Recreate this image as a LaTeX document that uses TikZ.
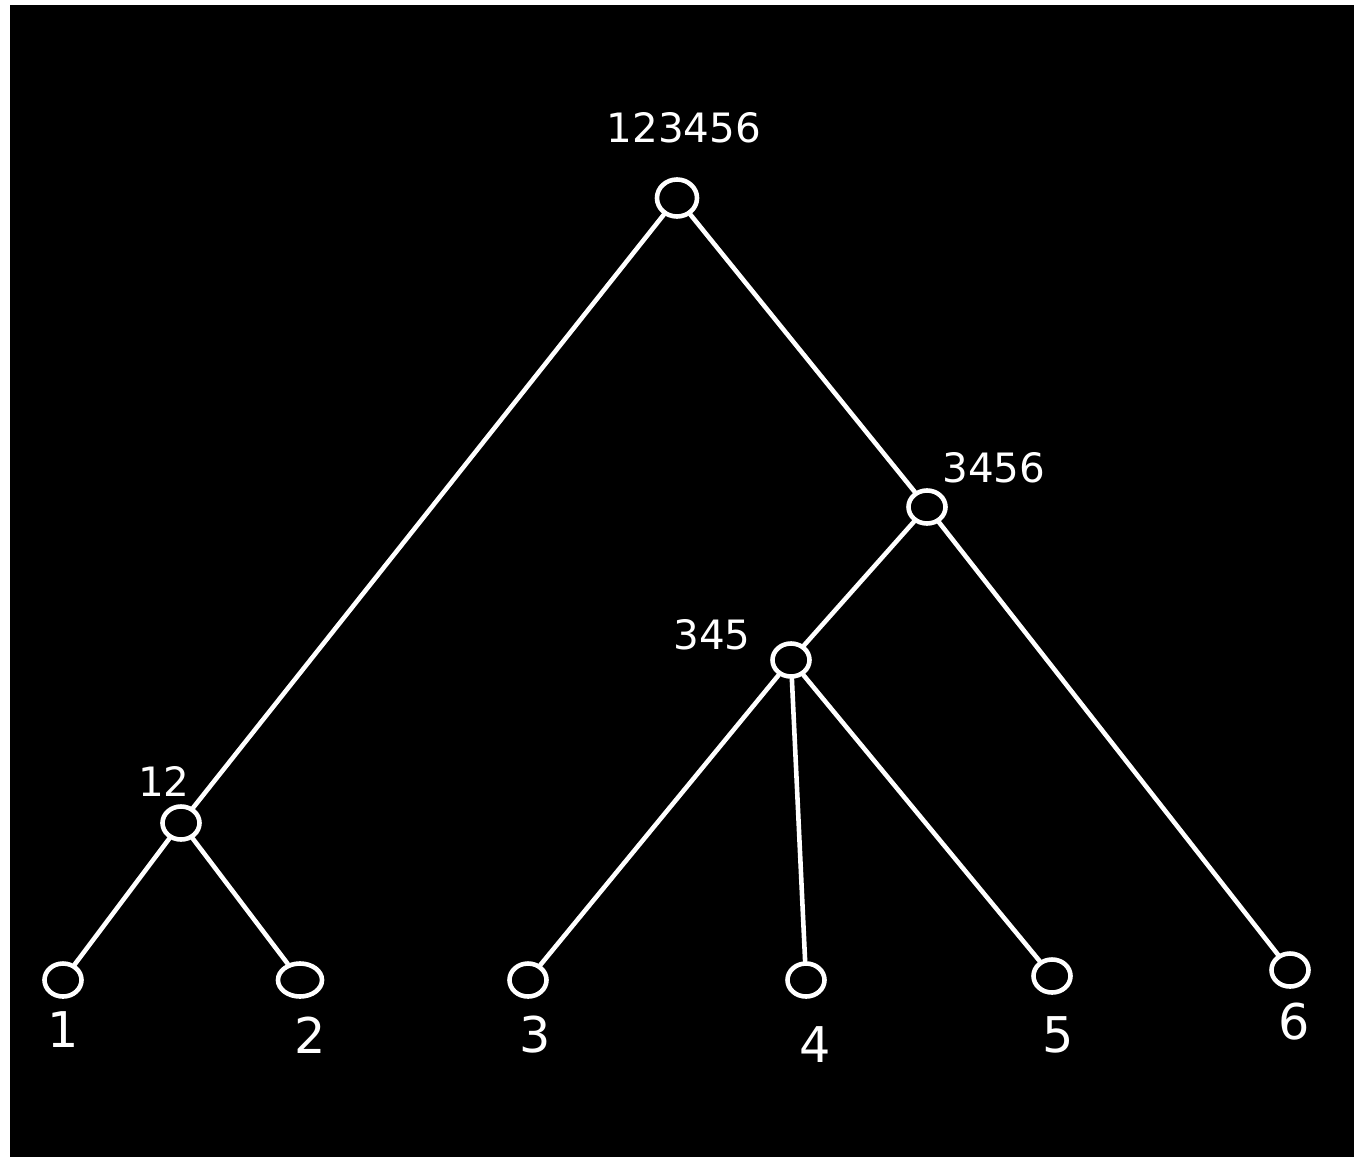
\documentclass[tikz,border=0pt]{standalone}
\usepackage{fontspec}
\setmainfont{DejaVu Sans}
\usetikzlibrary{shapes.geometric}
\begin{document}
\begin{tikzpicture}[x=0.01cm,y=-0.01cm,
  vert/.style={draw=white,line width=1.3pt,ellipse,inner sep=0pt,minimum width=0.37cm,minimum height=0.33cm},
  lab/.style={text=white,font=\fontsize{11.5}{14}\selectfont,inner sep=0pt},
  leaflab/.style={text=white,font=\fontsize{14}{16}\selectfont,inner sep=0pt},
  edge/.style={draw=white,line width=1.3pt,line cap=round}]
\fill[white] (0,0) rectangle (1354,1157);
\fill[black] (10,5) rectangle (1354,1157);
\useasboundingbox (0,0) rectangle (1354,1157);
% vertices
\node[vert,minimum width=0.40cm,minimum height=0.37cm] (r) at (677,198) {};
\node[vert] (c3456) at (927,507) {};
\node[vert] (c345) at (791,660) {};
\node[vert] (c12) at (181,823) {};
\node[vert] (l1) at (63,980) {};
\node[vert,minimum width=0.44cm] (l2) at (300,980) {};
\node[vert] (l3) at (528,980) {};
\node[vert] (l4) at (806,980) {};
\node[vert] (l5) at (1052,976) {};
\node[vert] (l6) at (1290,970) {};
% labels
\node[lab] (tr) at (684,128) {123456};
\node[lab] (t3456) at (994,468) {3456};
\node[lab] (t345) at (712,635) {345};
\node[lab] (t12) at (164,781) {12};
\node[leaflab] (t1) at (63,1030) {1};
\node[leaflab] (t2) at (310,1035) {2};
\node[leaflab] (t3) at (535,1035) {3};
\node[leaflab] (t4) at (815,1045) {4};
\node[leaflab] (t5) at (1058,1035) {5};
\node[leaflab] (t6) at (1294,1022) {6};
% edges
\draw[edge] (r) -- (c12);
\draw[edge] (r) -- (c3456);
\draw[edge] (c3456) -- (c345);
\draw[edge] (c3456) -- (l6);
\draw[edge] (c345) -- (l3);
\draw[edge] (c345) -- (l4);
\draw[edge] (c345) -- (l5);
\draw[edge] (c12) -- (l1);
\draw[edge] (c12) -- (l2);
\end{tikzpicture}
\end{document}
